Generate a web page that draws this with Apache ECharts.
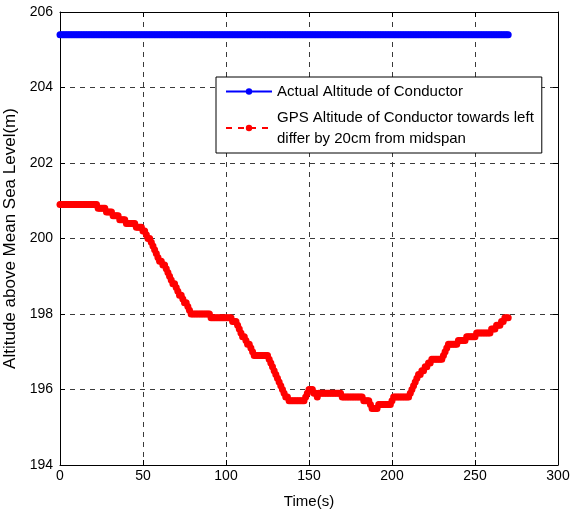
<!DOCTYPE html>
<html>
<head>
<meta charset="utf-8">
<script src="https://cdn.jsdelivr.net/npm/echarts@6/dist/echarts.min.js"></script>
<style>
  html, body { margin: 0; padding: 0; background: #fff; }
  #chart { width: 574px; height: 517px; }
</style>
</head>
<body>
<div id="chart"></div>
<script>
// sampling step of the readings (s)
var stepSeconds = 1;
// actual altitude of conductor (m), constant over the run
var actualAltitude = 205.4;
// GPS altitude readings (m), one per second from t = 0 to 270
var gpsAltitude = [
  200.9, 200.9, 200.9, 200.9, 200.9, 200.9, 200.9, 200.9, 200.9, 200.9,
  200.9, 200.9, 200.9, 200.9, 200.9, 200.9, 200.9, 200.9, 200.9, 200.9,
  200.9, 200.9, 200.9, 200.8, 200.8, 200.8, 200.8, 200.8, 200.7, 200.7,
  200.7, 200.7, 200.6, 200.6, 200.6, 200.6, 200.5, 200.5, 200.5, 200.5,
  200.4, 200.4, 200.4, 200.4, 200.4, 200.4, 200.3, 200.3, 200.3, 200.3,
  200.2, 200.2, 200.1, 200.0, 200.0, 199.9, 199.8, 199.7, 199.6, 199.5,
  199.4, 199.4, 199.3, 199.3, 199.2, 199.1, 199.0, 198.9, 198.8, 198.8,
  198.7, 198.6, 198.5, 198.5, 198.4, 198.3, 198.3, 198.2, 198.1, 198.0,
  198.0, 198.0, 198.0, 198.0, 198.0, 198.0, 198.0, 198.0, 198.0, 198.0,
  198.0, 197.9, 197.9, 197.9, 197.9, 197.9, 197.9, 197.9, 197.9, 197.9,
  197.9, 197.9, 197.9, 197.9, 197.8, 197.8, 197.8, 197.7, 197.6, 197.5,
  197.4, 197.4, 197.3, 197.2, 197.2, 197.1, 197.0, 196.9, 196.9, 196.9,
  196.9, 196.9, 196.9, 196.9, 196.9, 196.9, 196.8, 196.7, 196.6, 196.5,
  196.4, 196.3, 196.2, 196.1, 196.0, 195.9, 195.8, 195.8, 195.7, 195.7,
  195.7, 195.7, 195.7, 195.7, 195.7, 195.7, 195.7, 195.7, 195.8, 195.9,
  196.0, 196.0, 196.0, 195.9, 195.9, 195.8, 195.9, 195.9, 195.9, 195.9,
  195.9, 195.9, 195.9, 195.9, 195.9, 195.9, 195.9, 195.9, 195.9, 195.9,
  195.8, 195.8, 195.8, 195.8, 195.8, 195.8, 195.8, 195.8, 195.8, 195.8,
  195.8, 195.8, 195.8, 195.7, 195.7, 195.7, 195.7, 195.6, 195.5, 195.5,
  195.5, 195.5, 195.6, 195.6, 195.6, 195.6, 195.6, 195.6, 195.6, 195.6,
  195.7, 195.8, 195.8, 195.8, 195.8, 195.8, 195.8, 195.8, 195.8, 195.8,
  195.8, 195.9, 196.0, 196.1, 196.2, 196.3, 196.4, 196.4, 196.5, 196.5,
  196.6, 196.6, 196.7, 196.7, 196.8, 196.8, 196.8, 196.8, 196.8, 196.8,
  196.8, 196.9, 197.0, 197.1, 197.2, 197.2, 197.2, 197.2, 197.2, 197.2,
  197.3, 197.3, 197.3, 197.3, 197.3, 197.4, 197.4, 197.4, 197.4, 197.4,
  197.4, 197.5, 197.5, 197.5, 197.5, 197.5, 197.5, 197.5, 197.5, 197.5,
  197.6, 197.6, 197.6, 197.7, 197.7, 197.7, 197.8, 197.8, 197.9, 197.9,
  197.9
];
// axis ranges
var xTicks = { min: 0, max: 300, interval: 50 };
var yTicks = { min: 194, max: 206, interval: 2 };

var seriesNames = [
  'Actual Altitude of Conductor',
  'GPS Altitude of Conductor towards left\ndiffer by 20cm from midspan'
];

var gpsData = gpsAltitude.map(function (v, i) { return [i * stepSeconds, v]; });
var actualData = gpsAltitude.map(function (v, i) { return [i * stepSeconds, actualAltitude]; });

var chart = echarts.init(document.getElementById('chart'));
var font = 'Liberation Sans, Arial, sans-serif';
var gridDash = { color: '#3a3a3a', width: 1, type: [5, 5] };

function frameAxis(extra) {
  // matlab-like box: black line, inward ticks, dashed grid
  return Object.assign({
    type: 'value',
    axisLine: { show: true, onZero: false, lineStyle: { color: '#000', width: 1 } },
    axisTick: { show: true, inside: true, length: 5, lineStyle: { color: '#000' } },
    splitLine: { show: false },
    axisLabel: { show: false }
  }, extra);
}

chart.setOption({
  animation: false,
  backgroundColor: '#fff',
  textStyle: { fontFamily: font },
  grid: { left: 60, right: 16, top: 12, bottom: 52, outerBoundsMode: 'none', containLabel: false },
  legend: {
    orient: 'vertical',
    left: 216,
    top: 77,
    padding: [4, 8, 4, 9],
    itemGap: 5,
    itemWidth: 46,
    itemHeight: 8,
    backgroundColor: '#fff',
    borderColor: '#000',
    borderWidth: 1,
    borderRadius: 0,
    textStyle: { fontSize: 15, color: '#000', lineHeight: 21, fontFamily: font },
    data: seriesNames
  },
  xAxis: [
    frameAxis({
      min: xTicks.min, max: xTicks.max, interval: xTicks.interval,
      position: 'bottom',
      name: 'Time(s)', nameLocation: 'middle', nameGap: 29,
      nameTextStyle: { fontSize: 15, color: '#000', fontFamily: font },
      axisLabel: { show: true, color: '#000', fontSize: 14, margin: 4, fontFamily: font },
      splitLine: { show: true, lineStyle: gridDash }
    }),
    frameAxis({ min: xTicks.min, max: xTicks.max, interval: xTicks.interval, position: 'top' })
  ],
  yAxis: [
    frameAxis({
      min: yTicks.min, max: yTicks.max, interval: yTicks.interval,
      position: 'left',
      name: 'Altitude above Mean Sea Level(m)', nameLocation: 'middle', nameGap: 32,
      nameRotate: 90,
      nameTextStyle: { fontSize: 17, color: '#000', fontFamily: font },
      axisLabel: { show: true, color: '#000', fontSize: 14, margin: 7, fontFamily: font },
      splitLine: { show: true, lineStyle: gridDash }
    }),
    frameAxis({ min: yTicks.min, max: yTicks.max, interval: yTicks.interval, position: 'right' })
  ],
  series: [
    {
      name: seriesNames[0],
      type: 'line',
      data: actualData,
      symbol: 'circle',
      symbolSize: 7,
      showAllSymbol: true,
      itemStyle: { color: '#0000ff' },
      lineStyle: { color: '#0000ff', width: 1 }
    },
    {
      name: seriesNames[1],
      type: 'line',
      data: gpsData,
      symbol: 'circle',
      symbolSize: 7,
      showAllSymbol: true,
      itemStyle: { color: '#ff0000' },
      lineStyle: { color: '#ff0000', width: 1, type: [6, 6] }
    }
  ]
});
</script>
</body>
</html>
